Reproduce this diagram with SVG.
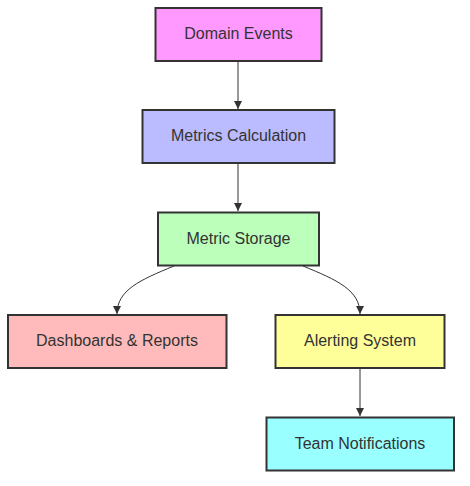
<svg xmlns="http://www.w3.org/2000/svg" width="470" height="486" viewBox="0 0 470 486">
<style>
.node rect{stroke:#333;stroke-width:2}
.node text{font-family:"Liberation Sans",Arial,sans-serif;font-size:16px;fill:#333;text-anchor:middle;dominant-baseline:central}
.edge{fill:none;stroke:#333;stroke-width:1}
</style>
<defs>
<marker id="arr" viewBox="0 0 10 10" refX="10" refY="5" markerWidth="8" markerHeight="8" markerUnits="userSpaceOnUse" orient="auto">
<path d="M0,0 L10,5 L0,10 z" fill="#333"/>
</marker>
</defs>
<rect width="470" height="486" fill="#fff"/>
<g id="edges">
<path class="edge" d="M238,61 L238,109" marker-end="url(#arr)"/>
<path class="edge" d="M238,163 L238,211" marker-end="url(#arr)"/>
<path class="edge" d="M174,266 C140,280 117,290 117,314" marker-end="url(#arr)"/>
<path class="edge" d="M303,266 C337,280 360,290 360,314" marker-end="url(#arr)"/>
<path class="edge" d="M360,368 L360,416" marker-end="url(#arr)"/>
</g>
<g id="domain-events" class="node"><rect x="155.5" y="8" width="166" height="53" fill="#ff99ff"/><text x="238.5" y="33.5">Domain Events</text></g>
<g id="metrics-calculation" class="node"><rect x="142.5" y="110" width="192" height="53" fill="#bbbbff"/><text x="238.5" y="135.5">Metrics Calculation</text></g>
<g id="metric-storage" class="node"><rect x="158" y="212.5" width="161" height="53" fill="#bbffbb"/><text x="238.5" y="238">Metric Storage</text></g>
<g id="dashboards" class="node"><rect x="8" y="315" width="218.5" height="53" fill="#ffbbbb"/><text x="117" y="340.5">Dashboards &amp; Reports</text></g>
<g id="alerting" class="node"><rect x="275.5" y="315" width="169" height="53" fill="#ffff99"/><text x="360" y="340.5">Alerting System</text></g>
<g id="team-notifications" class="node"><rect x="266.5" y="417.5" width="187.5" height="53" fill="#99ffff"/><text x="360" y="443">Team Notifications</text></g>
</svg>
